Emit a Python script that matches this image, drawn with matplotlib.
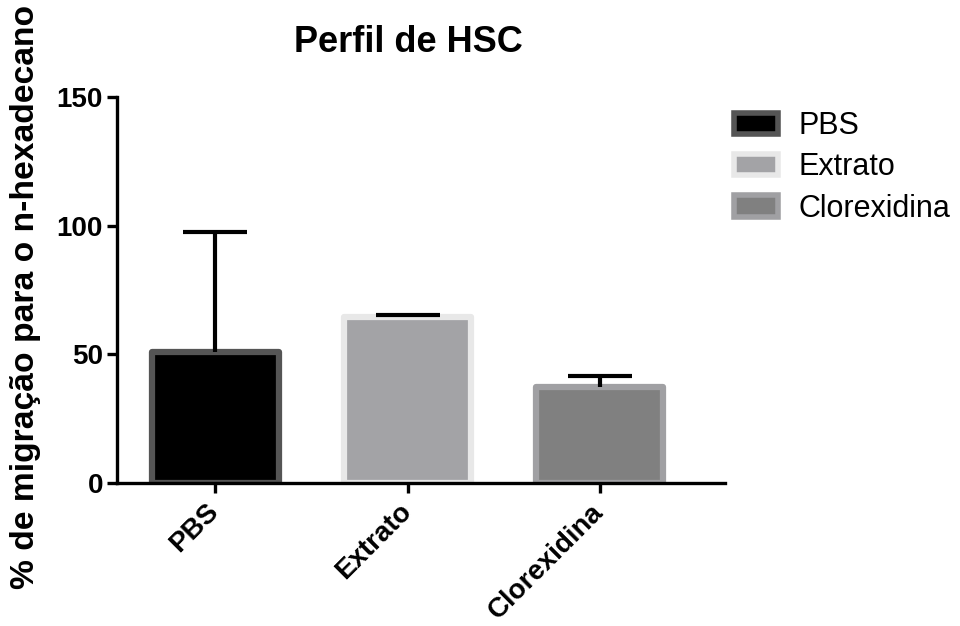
import matplotlib
matplotlib.use("Agg")
import matplotlib.pyplot as plt
from matplotlib.patches import Patch
from matplotlib.transforms import ScaledTranslation, blended_transform_factory

categories = ["PBS", "Extrato", "Clorexidina"]
means = [51.0, 64.5, 37.5]
errors = [46.5, 0.8, 4.0]
fills = ["#000000", "#a3a3a6", "#808080"]
edges = ["#555555", "#e8e8e8", "#a0a0a3"]
yticks = [0, 50, 100, 150]

plt.rcParams['font.family'] = ['Liberation Sans', 'DejaVu Sans']

fig = plt.figure(figsize=(9.6, 6.26), dpi=100)
ax = fig.add_axes([117/960, 1-483/626, (725-117)/960, (483-97)/626])

x = list(range(len(categories)))
bars = ax.bar(x, means, width=0.66, color=fills, edgecolor=edges, linewidth=4.5,
              joinstyle='round', zorder=2)
for xi, m, e in zip(x, means, errors):
    eb = ax.errorbar(xi, m, yerr=[[0], [e]], fmt='none', ecolor='black', elinewidth=3.0,
                     capsize=23, capthick=3.0, zorder=3)
    caps = eb.lines[1]
    if len(caps) > 1:
        caps[0].set_visible(False)

ax.set_xlim(-0.51, 2.65)
ax.set_ylim(0, 150)
ax.set_yticks(yticks)
ax.set_yticklabels([str(t) for t in yticks], fontsize=20, fontweight='bold')
ax.set_xticks(x)
ax.set_xticklabels([])
base = blended_transform_factory(ax.transData, ax.transAxes)
offset = ScaledTranslation(0.0, -0.25, fig.dpi_scale_trans)
for xi, cat in zip(x, categories):
    ax.text(xi, 0, cat, transform=base + offset, rotation=45, ha='right', va='center',
            rotation_mode='anchor', fontsize=20, fontweight='bold')
for s in ['top', 'right']:
    ax.spines[s].set_visible(False)
for s in ['left', 'bottom']:
    ax.spines[s].set_linewidth(2.4)
ax.tick_params(axis='both', width=2.4, length=7, pad=3)

ax.set_ylabel("% de migração para o n-hexadecano", fontsize=24.2, fontweight='bold')
ax.yaxis.set_label_coords(-0.125, 0.482)
fig.text(408/960, 1-42/626, "Perfil de HSC", ha='center', va='center', fontsize=26,
         fontweight='bold')

handles = [Patch(facecolor=f, edgecolor=e, linewidth=4) for f, e in zip(fills, edges)]
leg = fig.legend(handles, categories, loc='upper left', bbox_to_anchor=(734/960, 1-111/626),
                 frameon=False, fontsize=22, handlelength=1.45, handleheight=0.7,
                 handletextpad=0.65, labelspacing=0.37, borderaxespad=0, borderpad=0)

fig.savefig("out.png", dpi=100)
